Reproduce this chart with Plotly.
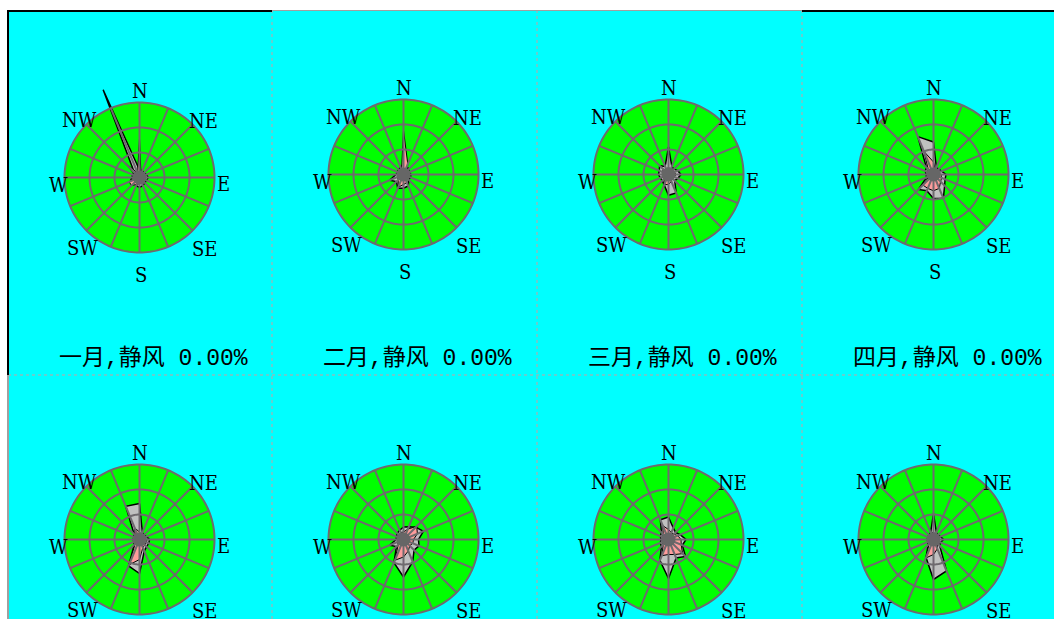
import numpy as np
import plotly.graph_objects as go

W, H = 1054, 619

# 16 compass sectors, clockwise from north
directions = ["N", "NNE", "NE", "ENE", "E", "ESE", "SE", "SSE",
              "S", "SSW", "SW", "WSW", "W", "WNW", "NW", "NNW"]
compass_labels = ["N", "NE", "E", "SE", "S", "SW", "W", "NW"]
months = ["一月", "二月", "三月", "四月", "五月", "六月", "七月", "八月"]
calm_pct = [0.00, 0.00, 0.00, 0.00, 0.00, 0.00, 0.00, 0.00]

# wind direction frequency (%), all speeds
freq_jan = [3, 3, 2.5, 3, 3.5, 3, 3, 3.5, 4, 3.5, 3, 4, 3, 3, 3, 38]
freq_feb = [4, 3.5, 3, 2.5, 3, 3, 3, 5, 5.5, 6, 4, 6, 3, 2.5, 3, 3]
freq_mar = [11, 3.5, 3, 4, 5, 4, 3.5, 8, 8.3, 4.5, 3.5, 3.5, 4, 4, 5, 3.5]
freq_apr = [13, 3, 3, 3.5, 5, 5, 6.3, 10.3, 9.6, 7, 8.5, 3, 3, 3.5, 4, 16.4]
freq_may = [14.4, 3, 2.5, 3, 4, 4, 4, 5, 13.6, 11.4, 3, 2.5, 2.5, 2.5, 3, 14.4]
freq_jun = [5, 5.5, 7, 8.6, 6, 6.7, 6, 9.6, 15, 10, 4, 6, 3, 3, 3.5, 4]
freq_jul = [9, 5, 4, 5, 7, 6, 9.6, 8, 15.6, 9, 4, 3.5, 3, 3.5, 4, 8.5]
freq_aug = [10.4, 3, 2.5, 3, 4, 3, 3.5, 13.6, 16, 7.8, 3, 2.5, 2.5, 2.5, 2.5, 3]

# wind direction frequency (%), higher speed class
strong_jan = [15.6, 1.5, 1.5, 1.5, 2, 1.5, 2, 2, 2.5, 3, 4.5, 4.5, 2, 1.5, 8.5, 2]
strong_feb = [17.7, 4.5, 2, 2, 2, 2, 2, 3.5, 4, 5.5, 3, 2.5, 2, 2, 2, 2]
strong_mar = [3, 2, 2, 2.5, 3, 2.5, 2, 3, 4, 4.4, 2.5, 2, 2.5, 2.5, 3, 2]
strong_apr = [5, 2, 2, 2, 3, 3.5, 4, 6, 6.5, 6, 6, 2, 2, 2.5, 3, 10]
strong_may = [3, 2, 2, 2, 3, 3, 3, 3.5, 8, 11, 2.5, 2, 2, 2, 2.5, 5]
strong_jun = [3, 4.5, 7.5, 6, 4, 4, 3.5, 5, 7, 9, 3, 2.5, 2, 2, 2.5, 3]
strong_jul = [4, 3, 3, 4, 5, 5.5, 8, 6.5, 6, 7, 3, 2.5, 2, 2.5, 3, 6]
strong_aug = [3, 2, 2, 2, 2.5, 2, 2.5, 4, 6, 8, 2.5, 2, 2, 2, 2, 2.5]

freq_all = [freq_jan, freq_feb, freq_mar, freq_apr, freq_may, freq_jun, freq_jul, freq_aug]
freq_strong = [strong_jan, strong_feb, strong_mar, strong_apr,
               strong_may, strong_jun, strong_jul, strong_aug]

ring_values = [10, 20, 30]

# ---- styling ----
CYAN = "#00ffff"
GREEN = "#00ff00"
GRID = "#6e6a6e"
GREY_FILL = "#c0c0c0"
PINK_FILL = "#ff9c9c"
HUB = "#666666"
LABEL_FONT = dict(family="DejaVu Serif Condensed, Liberation Serif, serif", size=20, color="#000000")
TITLE_FONT = dict(family="Liberation Mono, Noto Sans CJK SC", size=23, color="#000000")

PX_PER_UNIT = 2.5          # 10 % ring == 25 px
col_left = [8, 272, 537, 802]
row_top = [10, 375]
center_dx = [131.5, 131.5, 131.5, 131.5, 131.5, 131.5, 131.5, 131.5]
center_dy = [167.5, 164.5, 164.5, 164.5, 164.5, 164.5, 164.5, 164.5]
label_r = [34.8, 34.4, 33.9, 38.4, 39.2, 36.5, 32.7, 33.1]
label_theta = [0, 48.5, 94.7, 137.7, 179, 219, 265, 313.8]

theta16 = [k * 22.5 for k in range(16)]
circle_theta = list(np.linspace(0, 360, 181))

fig = go.Figure()
annotations = []


def add_label(x_px, y_px, text, font):
    # only texts that start on the page are placed
    if y_px - 8 > H:
        return
    annotations.append(dict(
        x=x_px / W, y=1 - y_px / H, xref="paper", yref="paper",
        xanchor="center", yanchor="middle", text=text, showarrow=False, font=font))


for i in range(8):
    row, col = divmod(i, 4)
    cx = col_left[col] + center_dx[i]
    cy = row_top[row] + center_dy[i]
    half = min(100.0, H - cy, cy)
    rmax = half / PX_PER_UNIT
    pid = "polar" if i == 0 else f"polar{i + 1}"
    fig.update_layout({pid: dict(
        domain=dict(x=[(cx - half) / W, (cx + half) / W],
                    y=[1 - (cy + half) / H, 1 - (cy - half) / H]),
        bgcolor="rgba(0,0,0,0)",
        radialaxis=dict(range=[0, rmax], visible=False),
        angularaxis=dict(visible=False, direction="clockwise", rotation=90),
    )})

    common = dict(subplot=pid, hoverinfo="skip", showlegend=False)

    # green face of the rose
    fig.add_trace(go.Scatterpolar(
        r=[ring_values[-1]] * len(circle_theta), theta=circle_theta,
        mode="lines", fill="toself", fillcolor=GREEN, line=dict(width=0), **common))

    a = freq_all[i] + freq_all[i][:1]
    b = freq_strong[i] + freq_strong[i][:1]
    th = theta16 + theta16[:1]

    fig.add_trace(go.Scatterpolar(
        r=a, theta=th, mode="lines", fill="toself", fillcolor=GREY_FILL,
        line=dict(color="#000000", width=1.5), **common))
    fig.add_trace(go.Scatterpolar(
        r=b, theta=th, mode="lines", fill="toself", fillcolor=PINK_FILL,
        line=dict(color="#000000", width=1), **common))

    # spokes and rings drawn over the data
    sr, st = [], []
    for t in theta16:
        sr += [0, ring_values[-1], None]
        st += [t, t, None]
    fig.add_trace(go.Scatterpolar(r=sr, theta=st, mode="lines",
                                  line=dict(color=GRID, width=2), **common))
    cr, ct = [], []
    for rv in ring_values:
        cr += [rv] * len(circle_theta) + [None]
        ct += circle_theta + [None]
    fig.add_trace(go.Scatterpolar(r=cr, theta=ct, mode="lines",
                                  line=dict(color=GRID, width=2), **common))

    # hub
    fig.add_trace(go.Scatterpolar(r=[0], theta=[0], mode="markers",
                                  marker=dict(size=14, color=HUB, line=dict(width=0)),
                                  cliponaxis=False, **common))

    # compass labels around the face
    for lab, lr, lt in zip(compass_labels, label_r, label_theta):
        ang = np.deg2rad(lt)
        lx = cx + lr * PX_PER_UNIT * np.sin(ang)
        ly = cy - lr * PX_PER_UNIT * np.cos(ang)
        add_label(lx, ly, lab, LABEL_FONT)

    add_label(col_left[col] + 145, row_top[row] + 348,
              f"{months[i]},静风 {calm_pct[i]:.2f}%", TITLE_FONT)


def px(x):
    return x / W


def py(y):
    return 1 - y / H


shapes = [
    dict(type="rect", xref="paper", yref="paper", x0=px(8), x1=px(W), y0=py(H), y1=py(10),
         fillcolor=CYAN, line=dict(width=0), layer="below"),
]
# cell dividers
for xv in [272, 537, 802]:
    shapes.append(dict(type="line", xref="paper", yref="paper", x0=px(xv), x1=px(xv),
                       y0=py(H), y1=py(11), line=dict(color="#c8a0a0", width=1, dash="dot"),
                       layer="below"))
shapes.append(dict(type="line", xref="paper", yref="paper", x0=px(8), x1=px(W),
                   y0=py(375), y1=py(375), line=dict(color="#c8a0a0", width=1, dash="dot"),
                   layer="below"))
# outer frame
shapes += [
    dict(type="line", xref="paper", yref="paper", x0=px(7), x1=px(272), y0=py(11), y1=py(11),
         line=dict(color="#000000", width=2)),
    dict(type="line", xref="paper", yref="paper", x0=px(272), x1=px(802), y0=py(10.5), y1=py(10.5),
         line=dict(color="#a0a0a0", width=1)),
    dict(type="line", xref="paper", yref="paper", x0=px(802), x1=px(W), y0=py(11), y1=py(11),
         line=dict(color="#000000", width=2)),
    dict(type="line", xref="paper", yref="paper", x0=px(8), x1=px(8), y0=py(375), y1=py(10),
         line=dict(color="#000000", width=2)),
    dict(type="line", xref="paper", yref="paper", x0=px(8), x1=px(8), y0=py(H), y1=py(375),
         line=dict(color="#a0a0a0", width=2)),
]

fig.update_layout(
    width=W, height=H,
    margin=dict(l=0, r=0, t=0, b=0),
    paper_bgcolor="#ffffff",
    plot_bgcolor="rgba(0,0,0,0)",
    shapes=shapes,
    annotations=annotations,
    showlegend=False,
)

fig.write_html("out.html")
